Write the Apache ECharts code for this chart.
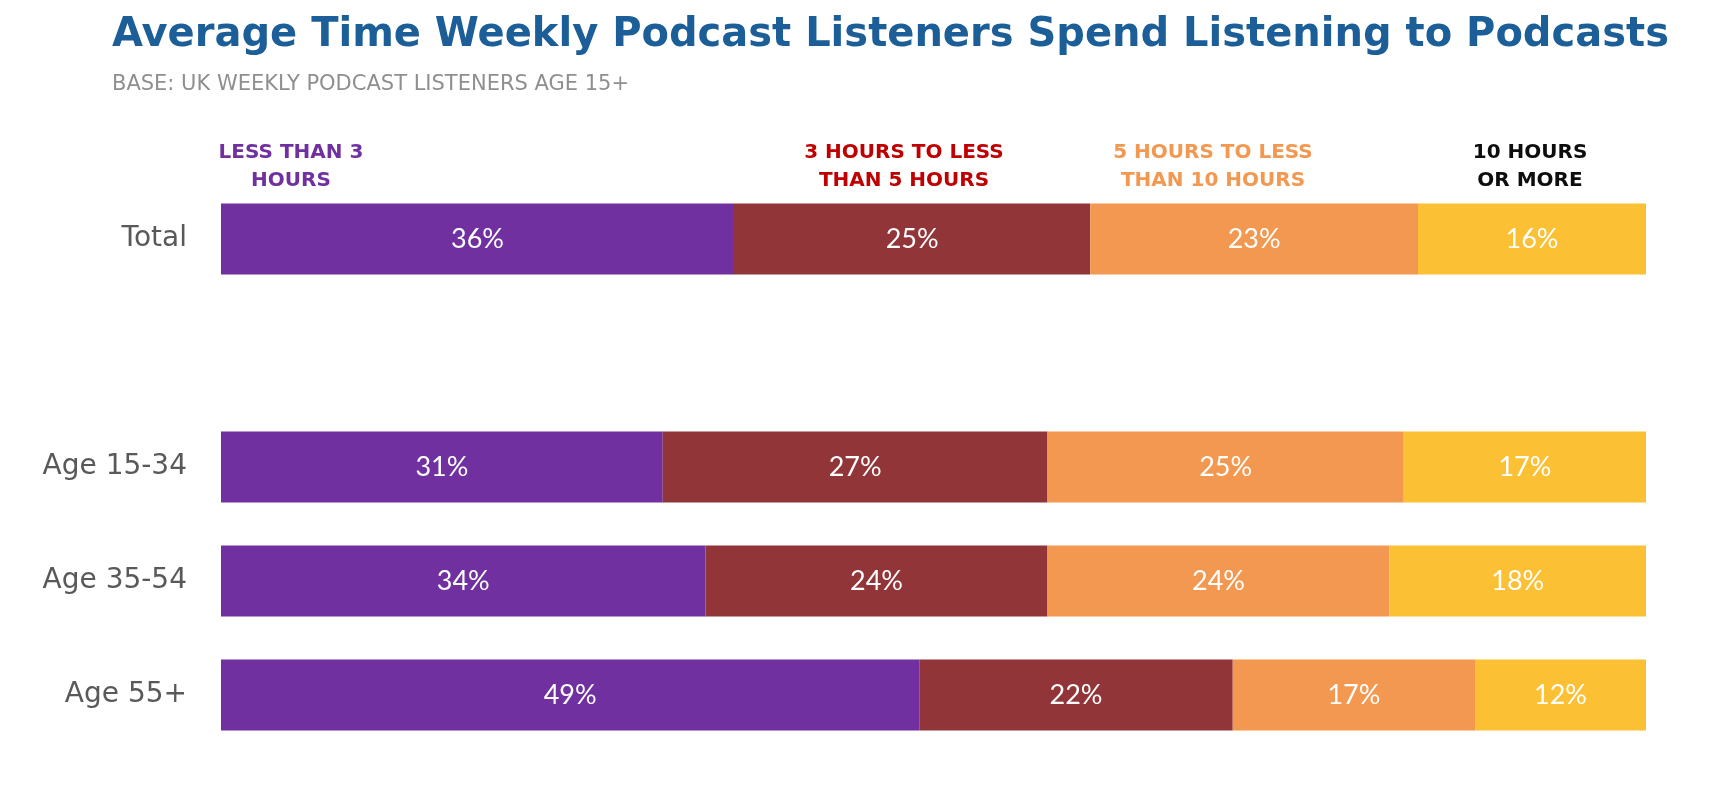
<!DOCTYPE html>
<html>
<head>
<meta charset="utf-8">
<script src="https://cdn.jsdelivr.net/npm/echarts@6/dist/echarts.min.js"></script>
<style>
html,body{margin:0;padding:0;background:#fff;}
#chart{width:1733px;height:796px;}
</style>
</head>
<body>
<div id="chart"></div>
<script>
// Categories (blank slot between Total and the age groups)
var categories = ['Total', '', 'Age 15-34', 'Age 35-54', 'Age 55+'];
var seriesNames = ['LESS THAN 3\nHOURS', '3 HOURS TO LESS\nTHAN 5 HOURS', '5 HOURS TO LESS\nTHAN 10 HOURS', '10 HOURS\nOR MORE'];
var lessThan3 = [36, '-', 31, 34, 49];
var from3to5 = [25, '-', 27, 24, 22];
var from5to10 = [23, '-', 25, 24, 17];
var tenOrMore = [16, '-', 17, 18, 12];

var titleText = 'Average Time Weekly Podcast Listeners Spend Listening to Podcasts';
var subtitleText = 'BASE: UK WEEKLY PODCAST LISTENERS AGE 15+';

var colors = ['#7030A0', '#923538', '#F39850', '#FBC034'];
var legendColors = ['#7030A0', '#C00000', '#F39850', '#0D0D0D'];
var legendX = [291, 904, 1213, 1530];

var chart = echarts.init(document.getElementById('chart'));

function mkSeries(name, data, color) {
  return {
    name: name,
    type: 'bar',
    stack: 'total',
    data: data,
    barWidth: 71,
    itemStyle: { color: color },
    label: {
      show: true,
      position: 'inside',
      color: '#ffffff',
      fontFamily: 'Lato',
      fontSize: 27,
      formatter: function (p) { return p.value + '%'; }
    },
    emphasis: { disabled: true }
  };
}

var graphics = [
  {
    type: 'text', left: 112, top: 16,
    style: { text: titleText, fill: '#1B5E98', font: 'bold 40px "DejaVu Sans"' }
  },
  {
    type: 'text', left: 112, top: 74,
    style: { text: subtitleText, fill: '#8F8F8F', font: '21px "DejaVu Sans"' }
  }
];
seriesNames.forEach(function (n, i) {
  graphics.push({
    type: 'text', x: legendX[i], y: 167,
    style: {
      text: n, fill: legendColors[i], font: 'bold 20px "DejaVu Sans"',
      align: 'center', verticalAlign: 'middle', lineHeight: 28
    }
  });
});

chart.setOption({
  animation: false,
  backgroundColor: '#ffffff',
  grid: { left: 221, right: 87, top: 182, bottom: 44 },
  xAxis: {
    type: 'value', min: 0, max: 100, show: false
  },
  yAxis: {
    type: 'category',
    data: categories,
    inverse: true,
    axisLine: { show: false },
    axisTick: { show: false },
    axisLabel: {
      color: '#595959',
      fontFamily: 'DejaVu Sans',
      fontSize: 28,
      margin: 34
    }
  },
  graphic: graphics,
  series: [
    mkSeries(seriesNames[0], lessThan3, colors[0]),
    mkSeries(seriesNames[1], from3to5, colors[1]),
    mkSeries(seriesNames[2], from5to10, colors[2]),
    mkSeries(seriesNames[3], tenOrMore, colors[3])
  ]
});
</script>
</body>
</html>
